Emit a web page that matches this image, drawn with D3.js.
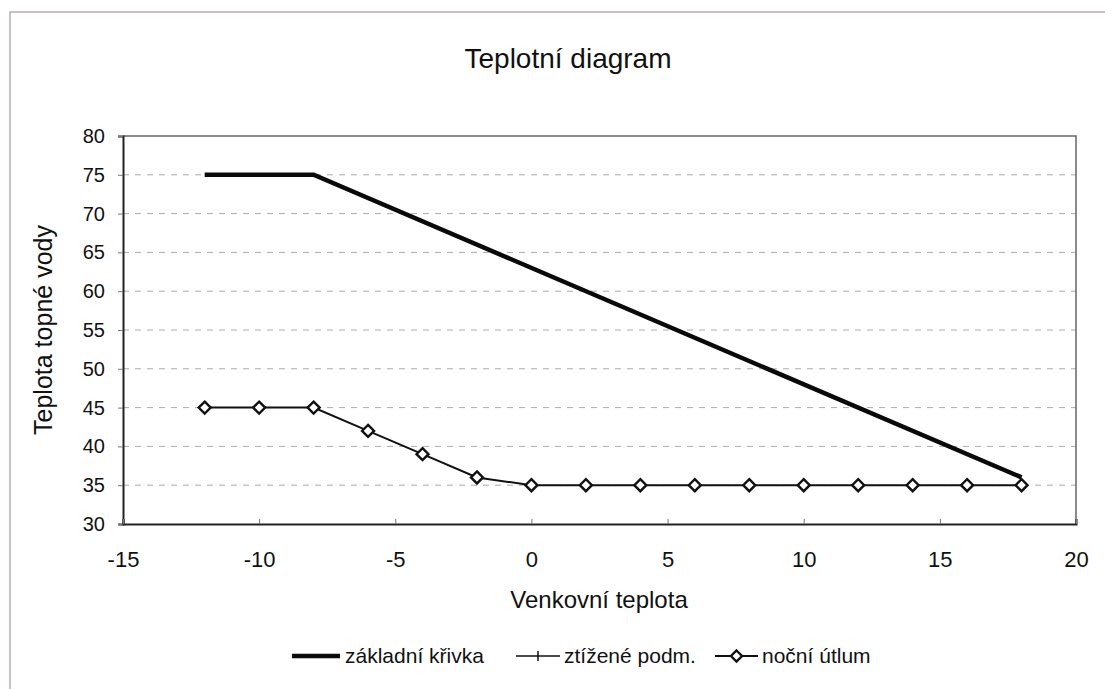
<!DOCTYPE html>
<html><head><meta charset="utf-8">
<script src="https://cdn.jsdelivr.net/npm/d3@7"></script>
<style>body{margin:0;background:#fff;} text{font-family:"Liberation Sans",Arial,sans-serif;fill:#111;}</style>
</head><body>
<svg id="c" width="1114" height="689"></svg>
<script>
const title = "Teplotní diagram";
const xTitle = "Venkovní teplota";
const yTitle = "Teplota topné vody";
const seriesNames = ["základní křivka", "ztížené podm.", "noční útlum"];
const xBasic = [-12, -8, 18];
const yBasic = [75, 75, 36];
const xHard = [];
const yHard = [];
const xNight = [-12, -10, -8, -6, -4, -2, 0, 2, 4, 6, 8, 10, 12, 14, 16, 18];
const yNight = [45, 45, 45, 42, 39, 36, 35, 35, 35, 35, 35, 35, 35, 35, 35, 35];
const xTicks = [-15, -10, -5, 0, 5, 10, 15, 20];
const yTicks = [30, 35, 40, 45, 50, 55, 60, 65, 70, 75, 80];

const svg = d3.select("#c");
const L = 123, R = 1076, T = 136, B = 524;
const x = d3.scaleLinear().domain([-15, 20]).range([L, R]);
const y = d3.scaleLinear().domain([30, 80]).range([B, T]);

// outer chart frame
svg.append("path").attr("d", `M10,700 L10,12 L1105,12`).attr("fill","none").attr("stroke","#b9adb0").attr("stroke-width",1.5);

svg.append("text").attr("x", 568).attr("y", 68).attr("text-anchor","middle").style("font-size","28px").text(title);

// gridlines
svg.append("g").selectAll("line").data(yTicks.filter(v => v > 30 && v < 80)).join("line")
  .attr("x1", L).attr("x2", R).attr("y1", d => y(d)).attr("y2", d => y(d))
  .attr("stroke", "#aaa").attr("stroke-width", 1).attr("stroke-dasharray", "6,6");

// plot border top/right
svg.append("path").attr("d", `M${L},${T} L${R},${T} L${R},${B}`).attr("fill","none").attr("stroke","#666").attr("stroke-width",1.5);

// axes
const yAxis = d3.axisLeft(y).tickValues(yTicks).tickSize(5).tickPadding(13);
const gy = svg.append("g").attr("transform", `translate(${L},0)`).call(yAxis);
gy.select(".domain").attr("stroke","#222").attr("stroke-width",2);
gy.selectAll(".tick line").attr("stroke","#777");
gy.selectAll("text").style("font-size","20px").attr("fill","#111");

const xAxis = d3.axisBottom(x).tickValues(xTicks).tickSize(-5).tickPadding(0).tickFormat(d3.format("d"));
const gx = svg.append("g").attr("transform", `translate(0,${B})`).call(xAxis);
gx.select(".domain").attr("stroke","#222").attr("stroke-width",2);
gx.selectAll(".tick line").attr("stroke","#777");
gx.selectAll("text").style("font-size","22px").attr("fill","#111").attr("dy", null).attr("y", 43)
  .text(d => d < 0 ? "-" + Math.abs(d) : d);

svg.append("text").attr("x", 599).attr("y", 608).attr("text-anchor","middle").style("font-size","24px").text(xTitle);
svg.append("text").attr("transform", "translate(52,330) rotate(-90)").attr("text-anchor","middle").style("font-size","25px").text(yTitle);

const line = d3.line().x(d => x(d[0])).y(d => y(d[1]));
const basic = xBasic.map((v, i) => [v, yBasic[i]]);
const hard = xHard.map((v, i) => [v, yHard[i]]);
const night = xNight.map((v, i) => [v, yNight[i]]);

svg.append("path").datum(night).attr("d", line).attr("fill","none").attr("stroke","#111").attr("stroke-width",2);
svg.append("path").datum(hard).attr("d", line).attr("fill","none").attr("stroke","#111").attr("stroke-width",1.5);
svg.append("path").datum(basic).attr("d", line).attr("fill","none").attr("stroke","#0a0a0a").attr("stroke-width",4.5);

const diamond = (cx, cy, s) => `M${cx},${cy - s} L${cx + s},${cy} L${cx},${cy + s} L${cx - s},${cy} Z`;
svg.append("g").selectAll("path").data(night).join("path")
  .attr("d", d => diamond(x(d[0]), y(d[1]), 6))
  .attr("fill", "#fff").attr("stroke", "#111").attr("stroke-width", 2.4);

// legend
const lg = svg.append("g");
const ly = 656;
lg.append("line").attr("x1", 292).attr("x2", 340).attr("y1", ly).attr("y2", ly).attr("stroke","#0a0a0a").attr("stroke-width",4.5);
lg.append("text").attr("x", 345).attr("y", ly + 7).style("font-size","21px").text(seriesNames[0]);
lg.append("line").attr("x1", 516).attr("x2", 560).attr("y1", ly).attr("y2", ly).attr("stroke","#111").attr("stroke-width",1.5);
lg.append("line").attr("x1", 538).attr("x2", 538).attr("y1", ly - 5).attr("y2", ly + 5).attr("stroke","#111").attr("stroke-width",1.5);
lg.append("text").attr("x", 564).attr("y", ly + 7).style("font-size","21px").text(seriesNames[1]);
lg.append("line").attr("x1", 715).attr("x2", 758).attr("y1", ly).attr("y2", ly).attr("stroke","#111").attr("stroke-width",2);
lg.append("path").attr("d", diamond(736.5, ly, 5.5)).attr("fill","#fff").attr("stroke","#111").attr("stroke-width",2.4);
lg.append("text").attr("x", 762).attr("y", ly + 7).style("font-size","21px").text(seriesNames[2]);
</script>
</body></html>
